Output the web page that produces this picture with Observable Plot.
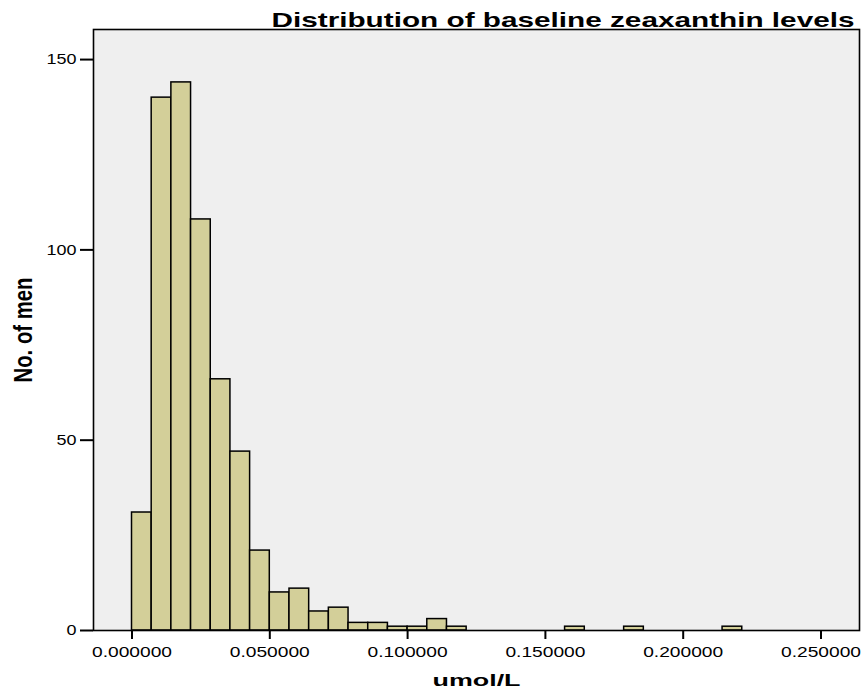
<!DOCTYPE html>
<html>
<head>
<meta charset="utf-8">
<script src="https://cdn.jsdelivr.net/npm/d3@7"></script>
<script src="https://cdn.jsdelivr.net/npm/@observablehq/plot@0.6"></script>
<style>
  html, body { margin: 0; padding: 0; background: #ffffff; }
  #chart svg { display: block; }
</style>
</head>
<body>
<div id="chart"></div>
<script>
// Histogram of baseline zeaxanthin (umol/L), bin width 0.05/7
const binWidth = 0.05 / 7;
const binIndex = [0, 1, 2, 3, 4, 5, 6, 7, 8, 9, 10, 11, 12, 13, 14, 15, 16, 22, 25, 30];
const counts   = [31, 140, 144, 108, 66, 47, 21, 10, 11, 5, 6, 2, 2, 1, 1, 3, 1, 1, 1, 1];
const xTicks = [0, 0.05, 0.1, 0.15, 0.2, 0.25];
const yTicks = [0, 50, 100, 150];
const title = "Distribution of baseline zeaxanthin levels";
const xLabel = "umol/L";
const yLabel = "No. of men";

const bins = binIndex.map((b, i) => ({x1: b * binWidth, x2: (b + 1) * binWidth, count: counts[i]}));

const chart = Plot.plot({
  width: 864,
  height: 695,
  marginLeft: 93,
  marginRight: 5,
  marginTop: 29,
  marginBottom: 65,
  style: {fontFamily: "Liberation Sans, Arial, sans-serif", fontSize: "15px", color: "#000", background: "#fff"},
  x: {domain: [-0.01397, 0.26397]},
  y: {domain: [0, 157.9]},
  marks: [
    Plot.frame({fill: "#efefef", stroke: null}),
    Plot.rectY(bins, {x1: "x1", x2: "x2", y: "count", fill: "#d3cf99", stroke: "#000", strokeWidth: 1.5, inset: 0}),
    Plot.frame({stroke: "#000", strokeWidth: 1.6}),
    Plot.axisX({ticks: xTicks, tickFormat: d3.format(".6f"), tickSize: 9, tickPadding: 7, strokeWidth: 2, fontSize: 15, label: null}),
    Plot.axisY({ticks: yTicks, tickSize: 13, tickPadding: 4, strokeWidth: 2, fontSize: 15, label: null}),
    Plot.text([xLabel], {frameAnchor: "bottom", lineAnchor: "middle", dy: 49.6, fontWeight: "bold", fontSize: 17, fill: "#000", className: "xlab"}),
    Plot.text([yLabel], {frameAnchor: "left", lineAnchor: "middle", textAnchor: "middle", dx: -70, rotate: -90, fontWeight: "bold", fontSize: 25, fill: "#000", className: "ylab"}),
    Plot.text([title], {frameAnchor: "top-right", lineAnchor: "middle", textAnchor: "end", dy: -9.7, dx: -5, fontWeight: "bold", fontSize: 21, fill: "#000", className: "ttl"})
  ]
});

// Match the reference's horizontally stretched / condensed lettering
const svg = d3.select(chart);
function stretch(sel, len) {
  sel.attr("textLength", len).attr("lengthAdjust", "spacingAndGlyphs");
}
stretch(svg.selectAll('g[aria-label="x-axis tick label"] text'), 80);
svg.selectAll('g[aria-label="y-axis tick label"] text').each(function() {
  const n = this.textContent.length;
  stretch(d3.select(this), n * 10);
});
stretch(svg.selectAll(".ttl text"), 583);
stretch(svg.selectAll(".xlab text"), 88);
stretch(svg.selectAll(".ylab text"), 105);

document.getElementById("chart").appendChild(chart);
</script>
</body>
</html>
